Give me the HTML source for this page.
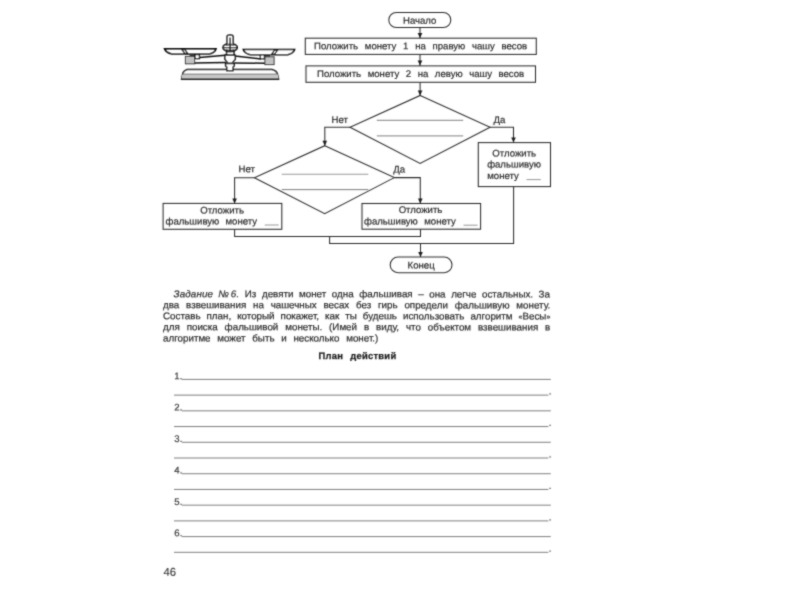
<!DOCTYPE html>
<html lang="ru">
<head>
<meta charset="utf-8">
<title>Задание № 6. План действий</title>
<style>
html,body{margin:0;padding:0;background:#fff;}
body{width:800px;height:600px;overflow:hidden;}
svg{display:block;}
text{font-family:"Liberation Sans",sans-serif;fill:#303030;text-rendering:geometricPrecision;white-space:pre;}
.f{font-size:9.6px;fill:#2c2c2c;stroke:#2c2c2c;stroke-width:0.2px;}
.p{font-size:9.8px;stroke:#303030;stroke-width:0.22px;}
.i{font-style:italic;word-spacing:2.4px;letter-spacing:0.12px;}
.q{font-size:7px;}
.h{font-size:9.4px;font-weight:bold;letter-spacing:0.28px;word-spacing:4.2px;fill:#1c1c1c;stroke:#1c1c1c;stroke-width:0.25px;}
.n{font-size:9.6px;fill:#383838;stroke:#383838;stroke-width:0.2px;}
.pg{font-size:11.3px;fill:#3a3a3a;stroke:#3a3a3a;stroke-width:0.15px;}
#art{filter:url(#soft);}
</style>
</head>
<body>
<svg width="800" height="600" viewBox="0 0 800 600">
<defs><filter id="soft" x="0" y="0" width="800" height="600" filterUnits="userSpaceOnUse"><feConvolveMatrix order="3" kernelMatrix="0.03 0.1 0.03 0.1 0.48 0.1 0.03 0.1 0.03" divisor="1" edgeMode="duplicate" preserveAlpha="false"/></filter></defs>
<rect width="800" height="600" fill="#fff"/>
<g id="art">
<g fill="none" stroke="#2c2c2c" stroke-width="1.05">
<rect x="388.8" y="12.5" width="62" height="15" rx="7.5" ry="7.5"/>
<rect x="305.3" y="38.2" width="231" height="16.2"/>
<rect x="306" y="65.9" width="229.5" height="16.4"/>
<polygon points="420.2,95.4 490.1,127.2 420.1,163.4 350,127.3"/>
<polygon points="324.8,145.7 394.3,177.6 324.7,213.7 254.4,177.8"/>
<rect x="478.3" y="142.6" width="72.2" height="44"/>
<rect x="163.1" y="203.4" width="118.7" height="25.9"/>
<rect x="362" y="203.5" width="118.6" height="25.7"/>
<rect x="390.2" y="257" width="61.8" height="15.8" rx="7.9" ry="7.9"/>
<path d="M420 27.5V38.2 M420 54.4V65.9 M420.1 82.3V95.4"/>
<path d="M350 127.3H324.8V145.7"/>
<path d="M490.1 127.2H513.5V142.6"/>
<path d="M254.4 177.8H234.6V203.4"/>
<path d="M394.3 177.6H420.3V203.5"/>
<path d="M234.6 229.3V236.4H420.5V229.2"/>
<path d="M329.6 236.4V243.5H513.6V186.6"/>
<path d="M420.5 243.5V257"/>
</g>
<g fill="#1a1a1a" stroke="none">
<polygon points="417.7,33 422.3,33 420,38"/>
<polygon points="417.7,60.6 422.3,60.6 420,65.6"/>
<polygon points="417.8,90.4 422.4,90.4 420.1,95.4"/>
<polygon points="322.5,140.7 327.1,140.7 324.8,145.7"/>
<polygon points="511.2,137.6 515.8,137.6 513.5,142.6"/>
<polygon points="232.3,198.4 236.9,198.4 234.6,203.4"/>
<polygon points="418,198.5 422.6,198.5 420.3,203.5"/>
<polygon points="418.2,252 422.8,252 420.5,257"/>
</g>
<g fill="none" stroke="#9a9a9a" stroke-width="1.1">
<path d="M376.8 120.4H463.2 M376.8 135.9H463.2"/>
<path d="M281.7 174.2H368.3"/>
<path d="M281.7 189.6H368.3" stroke="#6e6e6e" stroke-width="0.9"/>
</g>
<g fill="none" stroke="#8a8a8a" stroke-width="0.9">
<path d="M526.5 179.6H540.8 M264.8 225H278.7 M463.5 225.2H477.6"/>
</g>

<g fill="none" stroke="#7e7e7e" stroke-width="1">
<path d="M181.8 379.40H550.8 M174 395.12H548.4 M181.8 410.84H550.8 M174 426.56H548.4 M181.8 442.28H550.8 M174 458.00H548.4 M181.8 473.72H550.8 M174 489.44H548.4 M181.8 505.16H550.8 M174 520.88H548.4 M181.8 536.60H550.8 M174 552.32H548.4"/>
</g>
<g id="scales" fill="none" stroke="#111" stroke-width="1.45" stroke-linejoin="miter">
<path d="M181.6 79 L182.4 74.6 Q183.2 70.8 187.2 69.5 H272 Q276.8 70.8 277.7 74.6 L278.6 79 Z" fill="#fff"/>
<path d="M182.3 74.3 H277.8 L278.6 79 H181.6 Z" fill="#c6c6c6" stroke="none"/>
<path d="M182.8 74.1H277.4" stroke-width="0.8" stroke="#555"/>
<path d="M181.4 79.2H278.8" stroke-width="1.5"/>
<path d="M164.6 48.9H216 Q214.8 52.6 209 54 H172 Q166 52.6 164.6 48.9Z" fill="#fff" stroke-width="1.6"/>
<path d="M243.3 49.5H294.6 Q293.4 53.3 287.6 54.8 H250.4 Q244.5 53.3 243.3 49.5Z" fill="#fff" stroke-width="1.6"/>
<path d="M181.8 49.6H184.8L187.8 53.4H184.8Z" fill="#fff" stroke-width="1.3"/>
<path d="M277.6 50.2H274.6L271.6 54.2H274.6Z" fill="#fff" stroke-width="1.3"/>
<rect x="189.6" y="53.8" width="5.6" height="2.8" fill="#3a3a3a" stroke="none"/>
<rect x="264.4" y="54.4" width="5.6" height="2.6" fill="#3a3a3a" stroke="none"/>
<rect x="185.4" y="56.4" width="9.2" height="7.4" fill="#c2c2c2" stroke-width="1" stroke="#333"/>
<rect x="264.9" y="56.8" width="9.2" height="7.8" fill="#c2c2c2" stroke-width="1" stroke="#333"/>
<rect x="195" y="54.6" width="4.4" height="4" fill="#fff" stroke-width="1.3"/>
<rect x="260.4" y="54.8" width="4" height="4" fill="#fff" stroke-width="1.3"/>
<path d="M199.4 57.6 L225.2 55.2 M194.6 63 L226 62.6 M235 56 L260.6 59 M234.2 63 L265 63.2" stroke-width="1.5"/>
<path d="M225.6 63.4 H234.2 V66 L233 67 V70.8 H226.8 V67 L225.6 66 Z" fill="#fff"/>
<path d="M225 55 H235 L235.4 59 L232 63.2 H228 L224.8 59 Z" fill="#fff"/>
<path d="M226.6 51.4 H234 V55 H226.6 Z" fill="#fff"/>
<ellipse cx="230.1" cy="47.5" rx="7.2" ry="3.9" fill="#fff" stroke-width="1.5"/>
<path d="M227.1 43.8 V36.4 Q227.1 35 230.1 35 Q233.1 35 233.1 36.4 V43.8" fill="#fff"/>
<path d="M223.4 47.6H236.8 M230.1 37.4V51.2" stroke-width="1.4"/>
<path d="M226 45.4 Q230.1 44.4 234.2 45.4 M226 49.8 Q230.1 50.8 234.2 49.8" stroke-width="0.9"/>
</g>

<text class="f" transform="matrix(1,0.0005,0,1,314.0,49.2)" style="word-spacing:4.054px">Положить монету 1 на правую чашу весов</text>
<text class="f" transform="matrix(1,0.0005,0,1,317.0,77.0)" style="word-spacing:3.877px">Положить монету 2 на левую чашу весов</text>
<text class="p" transform="matrix(1,0.0005,0,1,173.6,297.25)" style="word-spacing:2.847px"><tspan class="i">Задание №<tspan dx="-0.3">&#8201;</tspan>6.</tspan> Из девяти монет одна фальшивая – она легче остальных. За</text>
<text class="p" transform="matrix(1,0.0005,0,1,163.0,308.25)" style="word-spacing:4.063px">два взвешивания на чашечных весах без гирь определи фальшивую монету.</text>
<text class="p" transform="matrix(1,0.0005,0,1,163.0,319.25)" style="word-spacing:3.278px">Составь план, который покажет, как ты будешь использовать алгоритм <tspan class="q" dy="-0.4">«</tspan><tspan dy="0.4">Весы</tspan><tspan class="q" dy="-0.4">»</tspan></text>
<text class="p" transform="matrix(1,0.0005,0,1,163.0,330.25)" style="word-spacing:4.183px">для поиска фальшивой монеты. (Имей в виду, что объектом взвешивания в</text>
<text class="p" transform="matrix(1,0.0005,0,1,163,341.5)" style="word-spacing:4px">алгоритме может быть и несколько монет.)</text>
<text class="h" transform="matrix(1,0.0005,0,1,357.4,359)" text-anchor="middle">План действий</text>
<text class="f" transform="matrix(1,0.0005,0,1,419.7,23.7)" text-anchor="middle">Начало</text>
<text class="f" transform="matrix(1,0.0005,0,1,331.6,123.0)">Нет</text>
<text class="f" transform="matrix(1,0.0005,0,1,493.6,122.9)">Да</text>
<text class="f" transform="matrix(1,0.0005,0,1,238.5,172.3)">Нет</text>
<text class="f" transform="matrix(1,0.0005,0,1,393.3,172.5)">Да</text>
<text class="f" transform="matrix(1,0.0005,0,1,514.2,156.6)" text-anchor="middle">Отложить</text>
<text class="f" transform="matrix(1,0.0005,0,1,514.0,167.6)" text-anchor="middle">фальшивую</text>
<text class="f" transform="matrix(1,0.0005,0,1,487.2,179.0)">монету</text>
<text class="f" transform="matrix(1,0.0005,0,1,222.1,213.4)" text-anchor="middle">Отложить</text>
<text class="f" transform="matrix(1,0.0005,0,1,165.5,224.4)">фальшивую</text>
<text class="f" transform="matrix(1,0.0005,0,1,225.5,224.4)">монету</text>
<text class="f" transform="matrix(1,0.0005,0,1,420.5,213.1)" text-anchor="middle">Отложить</text>
<text class="f" transform="matrix(1,0.0005,0,1,364.0,224.5)">фальшивую</text>
<text class="f" transform="matrix(1,0.0005,0,1,424.2,224.5)">монету</text>
<text class="f" transform="matrix(1,0.0005,0,1,421.1,268.5)" text-anchor="middle">Конец</text>
<text class="n" transform="matrix(1,0.0005,0,1,174.3,379.15)">1.</text>
<text class="n" transform="matrix(1,0.0005,0,1,548.7,394.62)">.</text>
<text class="n" transform="matrix(1,0.0005,0,1,174.3,410.59)">2.</text>
<text class="n" transform="matrix(1,0.0005,0,1,548.7,426.06)">.</text>
<text class="n" transform="matrix(1,0.0005,0,1,174.3,442.03)">3.</text>
<text class="n" transform="matrix(1,0.0005,0,1,548.7,457.5)">.</text>
<text class="n" transform="matrix(1,0.0005,0,1,174.3,473.47)">4.</text>
<text class="n" transform="matrix(1,0.0005,0,1,548.7,488.94)">.</text>
<text class="n" transform="matrix(1,0.0005,0,1,174.3,504.91)">5.</text>
<text class="n" transform="matrix(1,0.0005,0,1,548.7,520.38)">.</text>
<text class="n" transform="matrix(1,0.0005,0,1,174.3,536.35)">6.</text>
<text class="n" transform="matrix(1,0.0005,0,1,548.7,551.82)">.</text>
<text class="pg" transform="matrix(1,0.0005,0,1,163.4,575.7)">46</text>
</g>
</svg>
</body>
</html>
